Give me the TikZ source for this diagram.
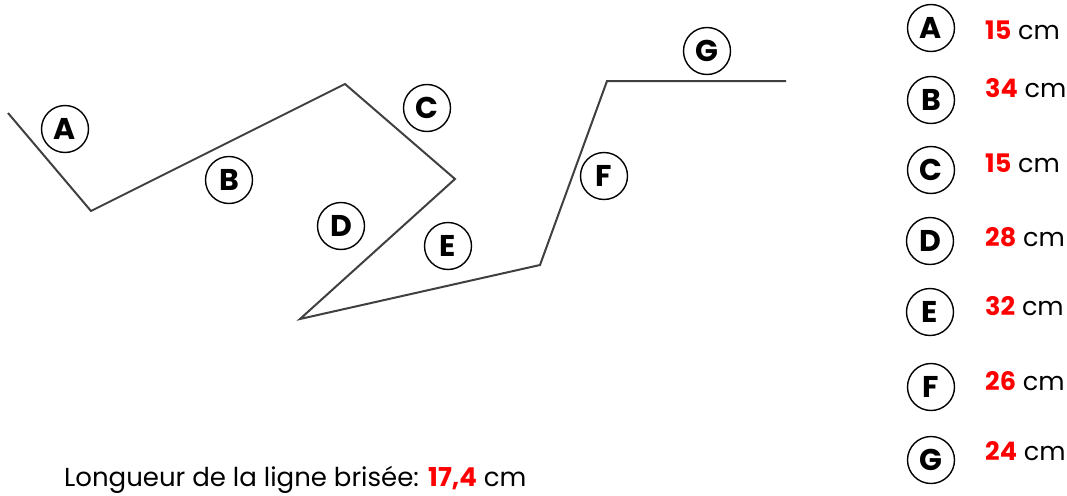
\documentclass[tikz,border=0pt]{standalone}
\usepackage{fontspec}
\setmainfont{Poppins}
\definecolor{linegray}{HTML}{404040}
\definecolor{numred}{HTML}{FF0000}
\begin{document}
\begin{tikzpicture}[x=1pt,y=-1pt,
  seglabel/.style={circle,draw=black,line width=1.4pt,minimum size=47pt,inner sep=0pt,font=\fontsize{30}{34}\selectfont\bfseries},
  legtext/.style={anchor=west,inner sep=0pt,font=\fontsize{25.5}{30}\selectfont},
  brline/.style={draw=linegray,line width=2pt,line join=miter}]
\useasboundingbox (0,0) rectangle (1067,495);
% polyline vertices
\coordinate (p0) at (8,113);
\coordinate (p1) at (91,211);
\coordinate (p2) at (345,84);
\coordinate (p3) at (455,179);
\coordinate (p4) at (300,319);
\coordinate (p5) at (540,265);
\coordinate (p6) at (607,81);
\coordinate (p7) at (786,81);
\draw[brline] (p0) -- (p1) -- (p2) -- (p3) -- (p4) -- (p5) -- (p6) -- (p7);
% segment labels
\node[seglabel] (la) at (65,129) {A};
\node[seglabel] (lb) at (229,180) {B};
\node[seglabel] (lc) at (427,108) {C};
\node[seglabel] (ld) at (341,226) {D};
\node[seglabel] (le) at (448,246) {E};
\node[seglabel] (lf) at (604,176) {F};
\node[seglabel] (lg) at (707,51) {G};
% legend
\node[seglabel] (ka) at (931,28) {A};
\node[seglabel] (kb) at (931,100) {B};
\node[seglabel] (kc) at (931,170) {C};
\node[seglabel] (kd) at (930,241) {D};
\node[seglabel] (ke) at (930,312) {E};
\node[seglabel] (kf) at (931,387) {F};
\node[seglabel] (kg) at (931,460) {G};
\node[legtext] (ta) at (985,30) {\textcolor{numred}{\bfseries 15} cm};
\node[legtext] (tb) at (985,88) {\textcolor{numred}{\bfseries 34} cm};
\node[legtext] (tc) at (985,163) {\textcolor{numred}{\bfseries 15} cm};
\node[legtext] (td) at (985,237) {\textcolor{numred}{\bfseries 28} cm};
\node[legtext] (te) at (985,306) {\textcolor{numred}{\bfseries 32} cm};
\node[legtext] (tf) at (985,381) {\textcolor{numred}{\bfseries 26} cm};
\node[legtext] (tg) at (985,451) {\textcolor{numred}{\bfseries 24} cm};
% total
\node[legtext,font=\fontsize{26}{30}\selectfont] (total) at (64,480) {Longueur de la ligne brisée: \textcolor{numred}{\bfseries 17,4} cm};
\end{tikzpicture}
\end{document}
